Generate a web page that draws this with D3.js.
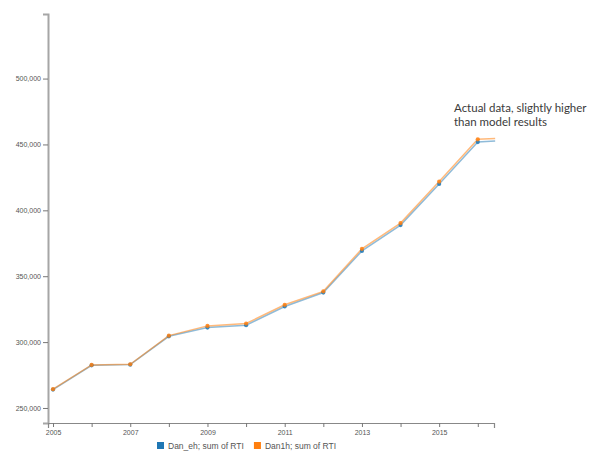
<!DOCTYPE html>
<html>
<head>
<meta charset="utf-8">
<script src="https://cdn.jsdelivr.net/npm/d3@7"></script>
<style>
  html, body { margin: 0; padding: 0; background: #fff; }
  svg { display: block; }
</style>
</head>
<body>
<svg id="chart" width="591" height="453"></svg>
<script>
// ---- data ----
const years = [2005, 2006, 2007, 2008, 2009, 2010, 2011, 2012, 2013, 2014, 2015, 2016, 2016.45];
const danEh = [264000, 282400, 282900, 304400, 311000, 312800, 327000, 337600, 369200, 388800, 420000, 451800, 452600];
const dan1h = [264300, 282700, 283200, 304900, 312300, 314100, 328300, 338500, 370800, 390300, 421800, 453900, 454600];
const seriesNames = ["Dan_eh; sum of RTI", "Dan1h; sum of RTI"];
const seriesColors = ["#1f77b4", "#ff7f0e"];
const xTickValues = [2005, 2006, 2007, 2008, 2009, 2010, 2011, 2012, 2013, 2014, 2015, 2016];
const yTickValues = [250000, 300000, 350000, 400000, 450000, 500000];
const annotationLines = ["Actual data, slightly higher", "than model results"];

// ---- scales ----
const svg = d3.select("#chart");
const x = d3.scaleLinear().domain([2004.87, 2016.42]).range([48, 494]);
const y = d3.scaleLinear().domain([238600, 549000]).range([423, 14]);

// ---- axes ----
const fmt = d3.format(",");
const yAxis = d3.axisLeft(y).tickValues(yTickValues).tickFormat(fmt).tickSize(5).tickSizeOuter(5).tickPadding(2);
const gy = svg.append("g").attr("transform", "translate(48,0)").call(yAxis);
gy.select(".domain").attr("stroke", "#a6a6a6").attr("stroke-width", 2);
gy.selectAll(".tick line").attr("stroke", "#777");
gy.selectAll(".tick text").attr("fill", "#555").style("font-family", "Arial, 'Liberation Sans', sans-serif").style("font-size", "7px");

const xAxis = d3.axisBottom(x).tickValues(xTickValues)
  .tickFormat(d => (d % 2 === 1 ? String(d) : ""))
  .tickSize(4).tickSizeOuter(5).tickPadding(3);
const gx = svg.append("g").attr("transform", "translate(0,423)").call(xAxis);
gx.select(".domain").attr("stroke", "#888").attr("stroke-width", 1.2);
gx.selectAll(".tick line").attr("stroke", "#777");
gx.selectAll(".tick text").attr("fill", "#555").style("font-family", "Arial, 'Liberation Sans', sans-serif").style("font-size", "7px");

// ---- lines ----
const allSeries = [danEh, dan1h];
const line = d3.line().x(d => x(d[0])).y(d => y(d[1]));
allSeries.forEach((vals, i) => {
  const pts = years.map((yr, j) => [yr, vals[j]]);
  svg.append("path")
    .datum(pts)
    .attr("fill", "none")
    .attr("stroke", seriesColors[i])
    .attr("stroke-opacity", i === 0 ? 0.5 : 0.55)
    .attr("stroke-width", 1.5)
    .attr("d", line);
});
allSeries.forEach((vals, i) => {
  const pts = years.map((yr, j) => [yr, vals[j]]).filter(p => Number.isInteger(p[0]));
  svg.append("g").selectAll("circle")
    .data(pts)
    .join("circle")
    .attr("cx", d => x(d[0]))
    .attr("cy", d => y(d[1]))
    .attr("r", 2.1)
    .attr("fill", seriesColors[i])
    .attr("fill-opacity", 0.85);
});

// ---- annotation ----
annotationLines.forEach((t, i) => {
  svg.append("text")
    .attr("x", 454).attr("y", 112 + i * 14)
    .attr("fill", "#3a3a3a")
    .style("font-family", "Lato, 'Open Sans', sans-serif")
    .style("font-size", "11.5px")
    .text(t);
});

// ---- legend ----
const legend = svg.append("g").attr("transform", "translate(157,448)");
let lx = 0;
seriesNames.forEach((name, i) => {
  const g = legend.append("g").attr("transform", `translate(${lx},0)`);
  g.append("rect").attr("x", 0).attr("y", -6).attr("width", 7).attr("height", 7).attr("fill", seriesColors[i]);
  const t = g.append("text").attr("x", 11).attr("y", 0.5)
    .attr("fill", "#555")
    .style("font-family", "Arial, 'Liberation Sans', sans-serif")
    .style("font-size", "8.5px")
    .text(name);
  lx += 11 + t.node().getComputedTextLength() + 10;
});
</script>
</body>
</html>
